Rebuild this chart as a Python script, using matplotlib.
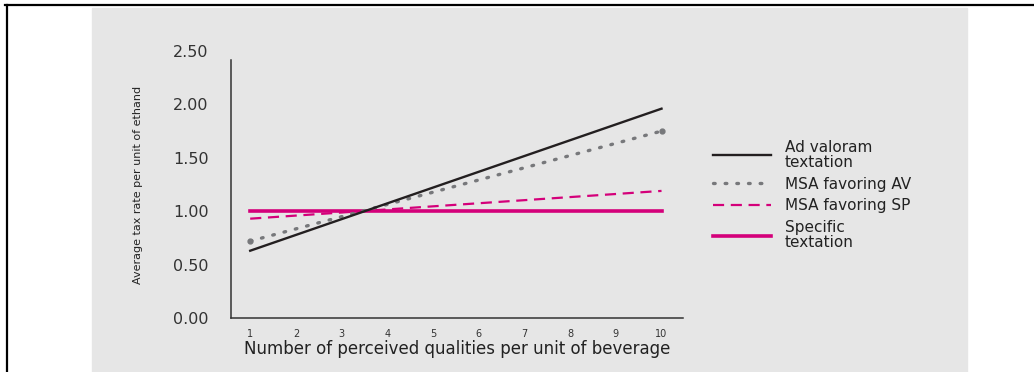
import matplotlib.pyplot as plt
from matplotlib.patches import Rectangle
from matplotlib.lines import Line2D

# data (straight lines, so end points only)
x = [1, 10]
ad_valorem = [0.63, 1.96]
msa_av = [0.72, 1.75]
msa_sp = [0.93, 1.19]
specific = [1.0, 1.0]

x_ticks = [1, 2, 3, 4, 5, 6, 7, 8, 9, 10]
y_ticks = [0.0, 0.5, 1.0, 1.5, 2.0, 2.5]

magenta = '#d4007a'
dark = '#231f20'
grey = '#77787b'

fig = plt.figure(figsize=(10.34, 3.72), dpi=100)
W, H = 1034, 372

# grey panel and black frame lines
fig.patches.append(Rectangle((92 / W, 0), (967 - 92) / W, 1 - 8 / H,
                             transform=fig.transFigure, color='#e6e6e6', zorder=-10))
fig.lines.append(Line2D([5 / W, 1], [1 - 5 / H, 1 - 5 / H], transform=fig.transFigure,
                        color='black', lw=1.6, zorder=-5))
fig.lines.append(Line2D([7 / W, 7 / W], [0, 1 - 5 / H], transform=fig.transFigure,
                        color='black', lw=1.6, zorder=-5))

ax = fig.add_axes([231 / W, 1 - 318 / H, (683 - 231) / W, (318 - 51) / H])
ax.patch.set_visible(False)

ax.plot(x, ad_valorem, color=dark, lw=1.7, label='Ad valoram\ntextation', zorder=4)
ax.plot(x, msa_av, color=grey, lw=2.4, ls=(0, (0.5, 3.0)), dash_capstyle='round',
        label='MSA favoring AV', zorder=3)
ax.plot(x, msa_av, color=grey, lw=0, marker='o', ms=3.5, zorder=3)
ax.plot(x, msa_sp, color=magenta, lw=1.6, ls=(0, (5, 3)), label='MSA favoring SP', zorder=2)
ax.plot(x, specific, color=magenta, lw=2.6, label='Specific\ntextation', zorder=1)

ax.set_xlim(0.58, 10.47)
ax.set_ylim(0, 2.5)
ax.set_xticks(x_ticks)
ax.set_xticklabels([str(t) for t in x_ticks], fontsize=7, color='#333333')
ax.set_yticks(y_ticks)
ax.set_yticklabels(['%.2f' % t for t in y_ticks], fontsize=11.5, color='#333333')
ax.tick_params(axis='both', length=0)
ax.tick_params(axis='y', pad=16)
ax.tick_params(axis='x', pad=8)

for s in ['top', 'right']:
    ax.spines[s].set_visible(False)
for s in ['left', 'bottom']:
    ax.spines[s].set_color('#333333')
    ax.spines[s].set_linewidth(1.1)
ax.spines['left'].set_bounds(0, 2.42)

ax.set_xlabel('Number of perceived qualities per unit of beverage', fontsize=12,
              color='#222222', labelpad=1)
ax.set_ylabel('Average tax rate per unit of ethand', fontsize=8,
              color='#222222', labelpad=22)

handles, labels = ax.get_legend_handles_labels()
leg = fig.legend(handles[:4], labels[:4], loc='upper left',
                 bbox_to_anchor=(699 / W, 1 - 126 / H), frameon=False,
                 fontsize=11, handlelength=3.8, handletextpad=0.9,
                 labelspacing=0.45, labelcolor='#222222')
for t in leg.get_texts():
    t.set_linespacing(1.0)

fig.savefig('out.png', dpi=100)
